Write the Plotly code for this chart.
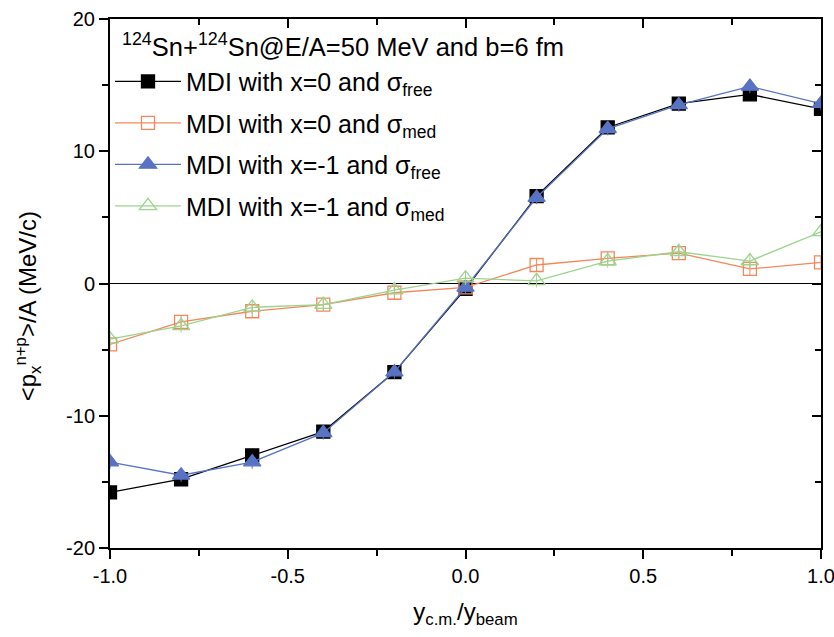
import plotly.graph_objects as go

# reduced rapidity y_cm / y_beam
rapidity = [-1.0, -0.8, -0.6, -0.4, -0.2, 0.0, 0.2, 0.4, 0.6, 0.8, 1.0]

# <p_x^{n+p}>/A in MeV/c
mdi_x0_free = [-15.8, -14.8, -13.0, -11.2, -6.7, -0.4, 6.6, 11.8, 13.6, 14.3, 13.2]
mdi_x0_med = [-4.6, -2.9, -2.1, -1.6, -0.7, -0.3, 1.4, 1.9, 2.3, 1.1, 1.6]
mdi_xm1_free = [-13.5, -14.5, -13.5, -11.3, -6.7, -0.3, 6.5, 11.7, 13.5, 14.9, 13.6]
mdi_xm1_med = [-4.2, -3.2, -1.8, -1.6, -0.5, 0.4, 0.2, 1.7, 2.4, 1.7, 3.9]

# statistical uncertainty drawn on every point
err = 0.5

# axis tick positions and labels (plain hyphen minus)
x_ticks = [-1.0, -0.5, 0.0, 0.5, 1.0]
x_tick_labels = ["-1.0", "-0.5", "0.0", "0.5", "1.0"]
y_ticks = [-20, -10, 0, 10, 20]
y_tick_labels = ["-20", "-10", "0", "10", "20"]

series = [
    ("MDI with x=0 and σ<sub>free</sub>", mdi_x0_free, "#000000", "square", 13),
    ("MDI with x=0 and σ<sub>med</sub>", mdi_x0_med, "#F5875A", "square-open", 13),
    ("MDI with x=-1 and σ<sub>free</sub>", mdi_xm1_free, "#5873C3", "triangle-up", 15),
    ("MDI with x=-1 and σ<sub>med</sub>", mdi_xm1_med, "#9BD48E", "triangle-up-open", 15),
]

fig = go.Figure()
for i, (name, vals, color, symbol, size) in enumerate(series):
    fig.add_trace(go.Scatter(
        x=rapidity, y=vals, name=name, mode="lines+markers",
        legendgroup=f"g{i}",
        line=dict(color=color, width=1.3),
        marker=dict(symbol=symbol, size=size, color=color,
                    line=dict(color=color, width=1.3)),
        error_y=dict(type="constant", value=err, color=color,
                     thickness=1, width=0),
    ))

# invisible trace anchoring the mirrored top/right axes
fig.add_trace(go.Scatter(x=[0], y=[0], xaxis="x2", yaxis="y2",
                         mode="markers", marker=dict(opacity=0),
                         showlegend=False, hoverinfo="skip"))

tick_font = dict(family="Liberation Sans, Arial", size=20, color="black")
label_font = dict(family="Liberation Sans, Arial", size=24, color="black")

axis_common = dict(showgrid=False, showline=True, linecolor="black",
                   linewidth=2, ticklen=9, tickwidth=2, tickcolor="black",
                   automargin=False)

fig.update_layout(
    width=834, height=637,
    margin=dict(l=110, r=13, t=19, b=89),
    plot_bgcolor="white", paper_bgcolor="white",
    showlegend=True,
    legend=dict(x=0.0, y=0.925, xanchor="left", yanchor="top",
                bgcolor="rgba(0,0,0,0)",
                font=dict(family="Liberation Sans, Arial", size=25, color="black"),
                itemwidth=66, tracegroupgap=6),
    xaxis=dict(range=[-1.0, 1.0], tickmode="array", tickvals=x_ticks,
               ticktext=x_tick_labels, zeroline=False,
               ticks="outside", ticklabeloverflow="allow",
               minor=dict(dtick=0.25, ticks="outside", ticklen=6,
                          tickwidth=2, tickcolor="black"),
               tickfont=tick_font,
               title=dict(text="y<sub>c.m.</sub>/y<sub>beam</sub>",
                          font=label_font, standoff=17),
               **axis_common),
    yaxis=dict(range=[-20, 20], tickmode="array", tickvals=y_ticks,
               ticktext=y_tick_labels,
               zeroline=True, zerolinecolor="black", zerolinewidth=1.2,
               ticks="outside",
               minor=dict(dtick=5, ticks="outside", ticklen=6,
                          tickwidth=2, tickcolor="black"),
               tickfont=tick_font,
               **axis_common),
    xaxis2=dict(overlaying="x", side="top", range=[-1.0, 1.0], dtick=0.5,
                zeroline=False, showticklabels=False, ticks="inside",
                minor=dict(dtick=0.25, ticks="inside", ticklen=6,
                           tickwidth=2, tickcolor="black"),
                **axis_common),
    yaxis2=dict(overlaying="y", side="right", range=[-20, 20], dtick=10,
                zeroline=False, showticklabels=False, ticks="inside",
                minor=dict(dtick=5, ticks="inside", ticklen=6,
                           tickwidth=2, tickcolor="black"),
                **axis_common),
    annotations=[
        dict(text="<sup>124</sup>Sn+<sup>124</sup>Sn@E/A=50 MeV and b=6 fm",
             xref="paper", yref="paper", x=0.014, y=0.985,
             xanchor="left", yanchor="top", showarrow=False,
             font=dict(family="Liberation Sans, Arial", size=25.5, color="black")),
        # y-axis title
        dict(text="<p<sub>x</sub><sup>n+p</sup>>/A (MeV/c)",
             xref="paper", yref="paper", x=-0.116, y=0.456,
             xanchor="center", yanchor="middle", textangle=-90,
             showarrow=False, font=label_font),
    ],
)

fig.write_html("out.html")
